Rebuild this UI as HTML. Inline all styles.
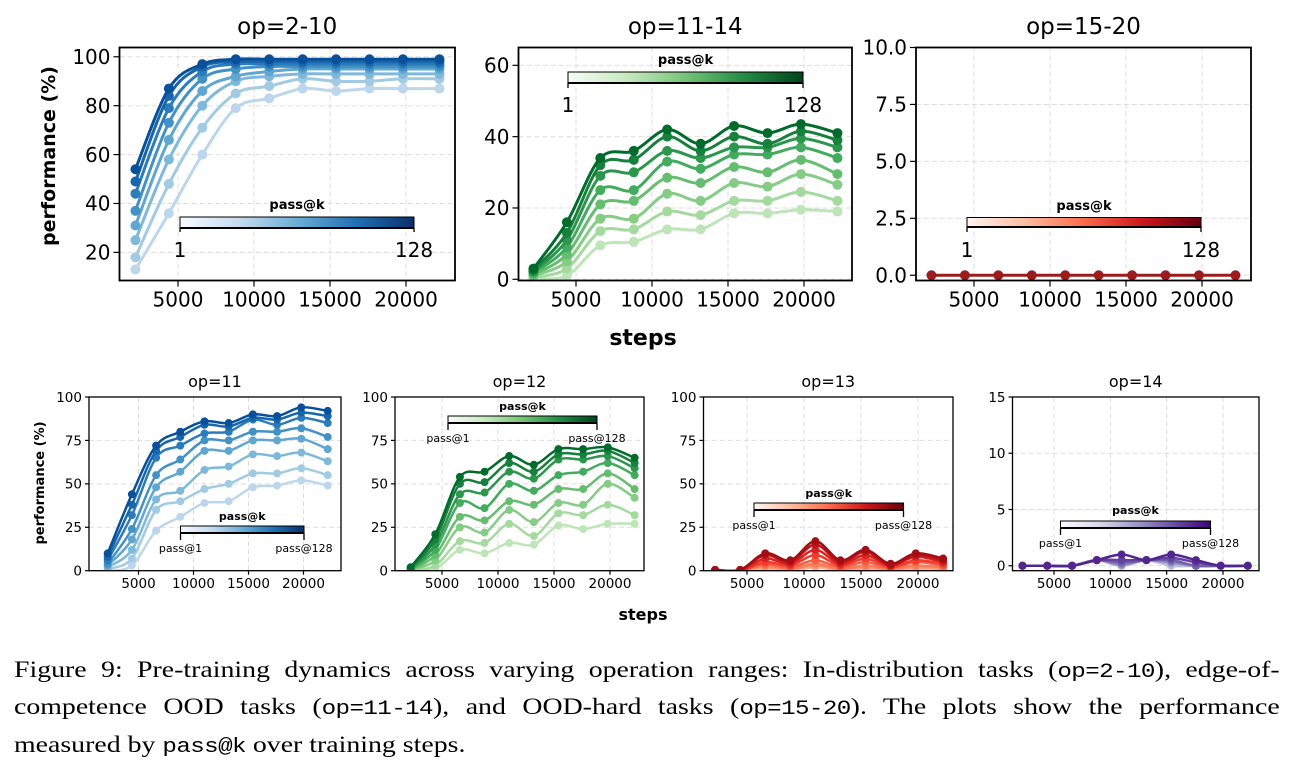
<!DOCTYPE html>
<html><head><meta charset="utf-8">
<style>
body{margin:0;background:#fff;width:1293px;height:759px;overflow:hidden;position:relative}
svg{position:absolute;left:0;top:0}
.cap{position:absolute;left:14px;width:1046px;transform:scaleX(1.21);transform-origin:0 0;font-family:"Liberation Serif",serif;font-size:23px;color:#000;line-height:33px}
.j{text-align:justify;text-align-last:justify;white-space:nowrap}
.m{font-family:"Liberation Mono",monospace;font-size:20px;letter-spacing:-0.5px}
</style></head><body>
<svg id="fig" width="1293" height="640" font-family="DejaVu Sans, Liberation Sans, sans-serif"></svg>
<div class="cap" style="top:653px">
<div class="j">Figure 9: Pre-training dynamics across varying operation ranges: In-distribution tasks (<span class="m">op=2-10</span>), edge-of-</div>
<div class="j" style="margin-top:1px">competence OOD tasks (<span class="m">op=11-14</span>), and OOD-hard tasks (<span class="m">op=15-20</span>). The plots show the performance</div>
<div style="margin-top:2px">measured by <span class="m">pass@k</span> over training steps.</div>
</div>
<script>
const steps=[2200,4400,6600,8800,11000,13200,15400,17600,19800,22200];
const op2_10=[
[13,36,60,79,83,87,86,87,87,87],[18,48,71,85,88,91,90,90,91,91],[25,58,80,90,92,93,93,93,93,93],[31,66,86,92,94,95,95,95,95,95],
[37,73,91,95,96,96,96,96,96,96],[44,79,94,97,97,97,97,97,97,97],[49,84,96,98,98,98,98,98,98,98],[54,87,97,99,99,99,99,99,99,99]];
const op11_14=[
[0.3,1,9.5,10.5,14,14,18.5,18.5,19.5,19],[0.5,3,13.5,14,19,18,22,22,24.5,22],[1,5,17,17,24,22,27,26,29.5,26.5],[1.3,7,21,22,28.5,27,31.5,30,33.5,29.5],
[1.8,9,25,25,33,31,35,35,37,34],[2.2,11,29,30,36,34,37,37,39.5,37],[2.6,13,32,33.5,40,36,40,38,41.5,39],[3,16,34,36,42,38,43,41,43.5,41]];
const op15_20=[[0,0,0,0,0,0,0,0,0,0]];
const op11=[
[0,3,23,31,39,40,48,49,52,49],[1,7,35,40,47,50,56,56,59,55],[2,12,41,46,58,60,67,66,68,63],[3,18,48,57,69,69,75,75,76,70],
[4,24,55,64,75,75,80,80,82,77],[6,32,65,72,79,80,87,84,88,85],[8,38,69,77,84,83,88,87,91,89],[10,44,72,80,86,85,90,89,94,92]];
const op12=[
[0,1,12,10,16,15,26,24,27,27],[0,3,17,16,27,20,33,32,38,32],[0.5,6,25,22,35,28,39,38,50,42],[0.5,9,31,29,40,38,47,47,56,47],
[1,12,39,36,50,46,55,57,62,55],[1,15,44,45,57,53,64,64,66,59],[1.5,18,50,51,62,57,67,67,69,62],[2,21,54,57,66,61,70,70,71,65]];
const op13=[
[0,0,1,0,2,0,1,0,1,0.5],[0,0,2,0.5,3,0.5,2,0.5,2,1],[0,0,3,1,4,1,3,1,3,2],[0,0,4,2,6,2,5,1.5,5,3],
[0,0,5,3,9,3,7,2,6,4],[0,0,7,4,12,4,9,3,8,5],[0.5,0.5,9,5,15,5,11,3,9,6],[0.5,0.5,10,6,17,6,12,4,10,7]];
const op14=[
[0,0,0,0.5,0,0.5,0,0,0,0],[0,0,0,0.5,0,0.5,0,0,0,0],[0,0,0,0.5,0,0.5,0.2,0,0,0],[0,0,0,0.5,0.1,0.5,0.3,0,0,0],
[0,0,0,0.5,0.2,0.5,0.4,0,0,0],[0,0,0,0.5,0.3,0.5,0.5,0,0,0],[0,0,0,0.5,0.5,0.5,0.7,0.3,0,0],[0,0,0,0.5,1,0.5,1,0.5,0,0]];
const xTicks=[5000,10000,15000,20000];
const tickTop=[20,40,60,80,100], tickMid=[0,20,40,60], tickRight=[0,2.5,5,7.5,10], tickBot=[0,25,50,75,100], tick14=[0,5,10,15];

const CM={
B:["#f7fbff","#deebf7","#c6dbef","#9ecae1","#6baed6","#4292c6","#2171b5","#08519c","#08306b"],
G:["#f7fcf5","#e5f5e0","#c7e9c0","#a1d99b","#74c476","#41ab5d","#238b45","#006d2c","#00441b"],
R:["#fff5f0","#fee0d2","#fcbba1","#fc9272","#fb6a4a","#ef3b2c","#cb181d","#a50f15","#67000d"],
P:["#fcfbfd","#efedf5","#dadaeb","#bcbddc","#9e9ac8","#807dba","#6a51a3","#54278f","#3f007d"]};
function cmap(n,t){const s=CM[n];const f=t*8;const i=Math.min(7,Math.floor(f));const r=f-i;
 const a=h=>[1,3,5].map(k=>parseInt(h.substr(k,2),16));const A=a(s[i]),B=a(s[i+1]);
 return "rgb("+A.map((v,k)=>Math.round(v+(B[k]-v)*r)).join(",")+")";}
const NS="http://www.w3.org/2000/svg";const svg=document.getElementById('fig');
function el(tag,attrs,parent,txt){const e=document.createElementNS(NS,tag);for(const k in attrs)e.setAttribute(k,attrs[k]);if(txt!==undefined)e.textContent=txt;(parent||svg).appendChild(e);return e;}
let gid=0;
function panel(o){
 const g=el('g',{});
 
 
 const X=v=>o.p5+(v-5000)*(o.p20-o.p5)/15000;
 const Y=v=>o.y1-(v-o.ylim[0])*(o.y1-o.y0)/(o.ylim[1]-o.ylim[0]);
 xTicks.forEach(t=>{const l=el('line',{x1:X(t),x2:X(t),y1:o.y0,y2:o.y1,stroke:"#ddd","stroke-width":1,"stroke-dasharray":"5,3"},g);});
 o.yt.forEach(t=>{const l=el('line',{x1:o.x0,x2:o.x1,y1:Y(t),y2:Y(t),stroke:"#ddd","stroke-width":1,"stroke-dasharray":"5,3"},g);});
 const tt=el('text',{x:(o.x0+o.x1)/2,y:o.ty,"text-anchor":"middle","font-size":o.tfs},g,o.title);
 
 const cp=el('clipPath',{id:"c"+gid},g);el('rect',{x:o.x0,y:o.y0-8,width:o.x1-o.x0,height:o.y1-o.y0+8},cp);
 const cl=el('g',{"clip-path":"url(#c"+gid+")"},g);gid++;
 const n=o.data.length;
 o.data.forEach((s,si)=>{
  const col=o.single||cmap(o.cm,n==1?0.85:0.28+0.6*si/(n-1));
  const P=s.map((v,i)=>[X(steps[i]),Y(v)]);
  let d="M"+P[0][0]+","+P[0][1];
  for(let i=0;i<P.length-1;i++){const p0=P[Math.max(0,i-1)],p1=P[i],p2=P[i+1],p3=P[Math.min(P.length-1,i+2)];
   d+=" C"+(p1[0]+(p2[0]-p0[0])/6)+","+(p1[1]+(p2[1]-p0[1])/6)+" "+(p2[0]-(p3[0]-p1[0])/6)+","+(p2[1]-(p3[1]-p1[1])/6)+" "+p2[0]+","+p2[1];}
  const pa=el('path',{d:d,fill:"none",stroke:col,"stroke-width":o.lw},cl);
  
  P.forEach(p=>{const c=el('circle',{cx:p[0],cy:p[1],r:o.r,fill:col},cl);});
 });
 const fr=el('rect',{x:o.x0,y:o.y0,width:o.x1-o.x0,height:o.y1-o.y0,fill:"none",stroke:"#000","stroke-width":o.fw},g);
 
 xTicks.forEach(t=>{el('line',{x1:X(t),x2:X(t),y1:o.y1,y2:o.y1+o.tl,stroke:"#000","stroke-width":1.2},g);
  const tx=el('text',{x:X(t),y:o.y1+o.tl+o.fs,"text-anchor":"middle","font-size":o.fs},g,t);});
 o.yt.forEach(t=>{el('line',{x1:o.x0-o.tl,x2:o.x0,y1:Y(t),y2:Y(t),stroke:"#000","stroke-width":1.2},g);
  const tx=el('text',{x:o.x0-o.tl-3,y:Y(t)+o.fs*0.36,"text-anchor":"end","font-size":o.fs},g,o.yfmt?o.yfmt(t):t);});
 const cb=o.cb;const cg=el('g',{},g);
 const gd=el('linearGradient',{id:"gr"+gid},cg);
 [0,0.25,0.5,0.75,1].forEach(t=>el('stop',{offset:t,"stop-color":cmap(o.cm,t)},gd));
 el('rect',{x:cb.x0,y:cb.y0,width:cb.x1-cb.x0,height:cb.y1-cb.y0,fill:"url(#gr"+gid+")",stroke:"#000","stroke-width":1},cg);
 el('line',{x1:cb.x0,x2:cb.x1,y1:cb.y1,y2:cb.y1,stroke:"#000","stroke-width":2},cg);
 [cb.x0,cb.x1].forEach(x=>el('line',{x1:x,x2:x,y1:cb.y1,y2:cb.y1+cb.tk,stroke:"#000","stroke-width":1.3},cg));
 gid++;
 el('text',{x:(cb.x0+cb.x1)/2,y:cb.ly,"text-anchor":"middle","font-size":cb.lfs,"font-weight":"bold"},cg,"pass@k");
 el('text',{x:cb.x0,y:cb.ty,"text-anchor":"middle","font-size":cb.tfs},cg,cb.a);
 el('text',{x:cb.x1,y:cb.ty,"text-anchor":"middle","font-size":cb.tfs},cg,cb.b);
}
const TOPC={ty:34,tfs:23,fs:20,tl:6,lw:3,r:5,fw:1.8,y0:47.5,y1:280.5};
const BOTC={ty:387,tfs:16,fs:13.5,tl:4,lw:2.5,r:4,fw:1.3,y0:397,y1:570.7,ylim:[0,100],yt:tickBot};
panel(Object.assign({},TOPC,{name:'panel-op2-10',title:'op=2-10',x0:119.5,x1:455,p5:178,p20:406,ylim:[8.5,103.8],yt:tickTop,data:op2_10,cm:'B',
 cb:{x0:180,x1:414,y0:217,y1:228,tk:4,ly:209,lfs:13,ty:257,tfs:20,a:'1',b:'128'}}));
panel(Object.assign({},TOPC,{name:'panel-op11-14',title:'op=11-14',x0:518.5,x1:852,p5:576,p20:804,ylim:[-0.34,65],yt:tickMid,data:op11_14,cm:'G',
 cb:{x0:568,x1:803,y0:72,y1:83,tk:5,ly:64,lfs:13,ty:112,tfs:20,a:'1',b:'128'}}));
panel(Object.assign({},TOPC,{name:'panel-op15-20',title:'op=15-20',x0:916,x1:1251,p5:974,p20:1202,ylim:[-0.23,10],yt:tickRight,yfmt:t=>t.toFixed(1),data:op15_20,cm:'R',single:'#9b1c1f',
 cb:{x0:967,x1:1201,y0:217.5,y1:227,tk:5,ly:210,lfs:13,ty:257,tfs:20,a:'1',b:'128'}}));
panel(Object.assign({},BOTC,{name:'panel-op11',title:'op=11',x0:89,x1:341,p5:138.5,p20:303.5,data:op11,cm:'B',
 cb:{x0:180.5,x1:304,y0:526,y1:533,tk:7,ly:520,lfs:11,ty:552,tfs:11,a:'pass@1',b:'pass@128'}}));
panel(Object.assign({},BOTC,{name:'panel-op12',title:'op=12',x0:395,x1:644,p5:442,p20:610,data:op12,cm:'G',
 cb:{x0:448,x1:597,y0:416,y1:423,tk:7,ly:410,lfs:11,ty:442,tfs:11,a:'pass@1',b:'pass@128'}}));
panel(Object.assign({},BOTC,{name:'panel-op13',title:'op=13',x0:703.5,x1:953,p5:747,p20:918,data:op13,cm:'R',
 cb:{x0:754,x1:903.5,y0:503,y1:510,tk:7,ly:497,lfs:11,ty:529,tfs:11,a:'pass@1',b:'pass@128'}}));
panel(Object.assign({},BOTC,{name:'panel-op14',title:'op=14',x0:1012.5,x1:1259,p5:1054,p20:1223,ylim:[-0.44,15],yt:tick14,data:op14,cm:'P',
 cb:{x0:1060.5,x1:1210.5,y0:521,y1:528,tk:7,ly:514,lfs:11,ty:547,tfs:11,a:'pass@1',b:'pass@128'}}));
function lab(txt,attrs,name){const t=el('text',attrs,svg,txt);}
lab('performance (%)',{x:0,y:0,transform:"translate(55,156) rotate(-90)","text-anchor":"middle","font-size":19,"font-weight":"bold"},'y-axis-title-top');
lab('steps',{x:643,y:345,"text-anchor":"middle","font-size":22,"font-weight":"bold"},'x-axis-title-top');
lab('performance (%)',{x:0,y:0,transform:"translate(44,483) rotate(-90)","text-anchor":"middle","font-size":13,"font-weight":"bold"},'y-axis-title-bottom');
lab('steps',{x:643,y:620,"text-anchor":"middle","font-size":16,"font-weight":"bold"},'x-axis-title-bottom');
</script>
</body></html>
